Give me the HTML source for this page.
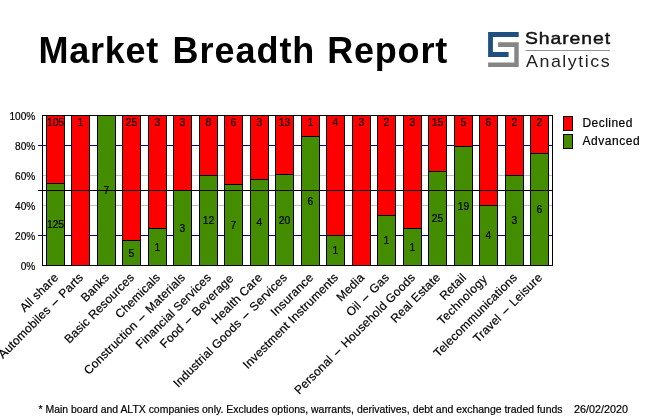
<!DOCTYPE html>
<html><head><meta charset="utf-8"><title>Market Breadth Report</title>
<style>
html,body{margin:0;padding:0;background:#fff}
body{width:655px;height:420px;position:relative;overflow:hidden;font-family:"Liberation Sans",Arial,sans-serif;color:#000}
.ttl{position:absolute;top:31.3px;font-weight:bold;font-size:36px;line-height:40px;transform-origin:0 0;white-space:nowrap;color:#000}
.lg1{position:absolute;left:524.5px;top:28.4px;font-size:17px;line-height:22px;white-space:nowrap;color:#111;letter-spacing:0.8px;-webkit-text-stroke:0.45px #111;transform-origin:0 0;transform:scaleX(1.14)}
.lg2{position:absolute;left:526px;top:50.6px;font-size:17px;line-height:22px;white-space:nowrap;color:#222;letter-spacing:1.45px;transform-origin:0 0;transform:scaleX(1.05)}
</style></head><body>
<div class="ttl" id="w1" style="left:38.6px;letter-spacing:0.7px">Market</div>
<div class="ttl" id="w2" style="left:172.6px;letter-spacing:0.95px">Breadth</div>
<div class="ttl" id="w3" style="left:327.2px;letter-spacing:0.8px">Report</div>
<svg width="655" height="420" viewBox="0 0 655 420" style="position:absolute;left:0;top:0">
<path d="M488.1 32.1H518.7V36.9H492.9V52.1H508.6V56.9H488.1Z" fill="#1f4e80"/>
<path d="M498.1 42.3H518.7V66.9H488.1V62.5H514.3V47H498.1Z" fill="#858585"/>
<rect x="525.5" y="50" width="84.5" height="0.8" fill="#777"/>
</svg>
<div class="lg1" id="l1">Sharenet</div>
<div class="lg2" id="l2">Analytics</div>
<svg width="655" height="420" viewBox="0 0 655 420" style="position:absolute;left:0;top:0" shape-rendering="crispEdges"><rect x="42.5" y="115.5" width="510" height="150" fill="#fff" stroke="#000" stroke-width="1"/><rect x="38" y="145" width="514" height="1" fill="#000080"/><rect x="38" y="235" width="514" height="1" fill="#000080"/><rect x="43" y="175" width="509" height="1" fill="#c0c0c0"/><rect x="43" y="205" width="509" height="1" fill="#c0c0c0"/><rect x="46.5" y="115.5" width="18" height="68" fill="#ff0000" stroke="#000"/><rect x="46.5" y="183.5" width="18" height="82" fill="#448c00" stroke="#000"/><rect x="71.5" y="115.5" width="18" height="150" fill="#ff0000" stroke="#000"/><rect x="97.5" y="115.5" width="18" height="150" fill="#448c00" stroke="#000"/><rect x="122.5" y="115.5" width="18" height="125" fill="#ff0000" stroke="#000"/><rect x="122.5" y="240.5" width="18" height="25" fill="#448c00" stroke="#000"/><rect x="148.5" y="115.5" width="18" height="113" fill="#ff0000" stroke="#000"/><rect x="148.5" y="228.5" width="18" height="37" fill="#448c00" stroke="#000"/><rect x="173.5" y="115.5" width="18" height="75" fill="#ff0000" stroke="#000"/><rect x="173.5" y="190.5" width="18" height="75" fill="#448c00" stroke="#000"/><rect x="199.5" y="115.5" width="18" height="60" fill="#ff0000" stroke="#000"/><rect x="199.5" y="175.5" width="18" height="90" fill="#448c00" stroke="#000"/><rect x="224.5" y="115.5" width="18" height="69" fill="#ff0000" stroke="#000"/><rect x="224.5" y="184.5" width="18" height="81" fill="#448c00" stroke="#000"/><rect x="250.5" y="115.5" width="18" height="64" fill="#ff0000" stroke="#000"/><rect x="250.5" y="179.5" width="18" height="86" fill="#448c00" stroke="#000"/><rect x="275.5" y="115.5" width="18" height="59" fill="#ff0000" stroke="#000"/><rect x="275.5" y="174.5" width="18" height="91" fill="#448c00" stroke="#000"/><rect x="301.5" y="115.5" width="18" height="21" fill="#ff0000" stroke="#000"/><rect x="301.5" y="136.5" width="18" height="129" fill="#448c00" stroke="#000"/><rect x="326.5" y="115.5" width="18" height="120" fill="#ff0000" stroke="#000"/><rect x="326.5" y="235.5" width="18" height="30" fill="#448c00" stroke="#000"/><rect x="352.5" y="115.5" width="18" height="150" fill="#ff0000" stroke="#000"/><rect x="377.5" y="115.5" width="18" height="100" fill="#ff0000" stroke="#000"/><rect x="377.5" y="215.5" width="18" height="50" fill="#448c00" stroke="#000"/><rect x="403.5" y="115.5" width="18" height="113" fill="#ff0000" stroke="#000"/><rect x="403.5" y="228.5" width="18" height="37" fill="#448c00" stroke="#000"/><rect x="428.5" y="115.5" width="18" height="56" fill="#ff0000" stroke="#000"/><rect x="428.5" y="171.5" width="18" height="94" fill="#448c00" stroke="#000"/><rect x="454.5" y="115.5" width="18" height="31" fill="#ff0000" stroke="#000"/><rect x="454.5" y="146.5" width="18" height="119" fill="#448c00" stroke="#000"/><rect x="479.5" y="115.5" width="18" height="90" fill="#ff0000" stroke="#000"/><rect x="479.5" y="205.5" width="18" height="60" fill="#448c00" stroke="#000"/><rect x="505.5" y="115.5" width="18" height="60" fill="#ff0000" stroke="#000"/><rect x="505.5" y="175.5" width="18" height="90" fill="#448c00" stroke="#000"/><rect x="530.5" y="115.5" width="18" height="38" fill="#ff0000" stroke="#000"/><rect x="530.5" y="153.5" width="18" height="112" fill="#448c00" stroke="#000"/><rect x="38" y="190" width="515" height="1" fill="#000"/><rect x="563.5" y="116.5" width="9" height="14" fill="#ff0000" stroke="#000"/><rect x="563.5" y="134.5" width="9" height="14" fill="#448c00" stroke="#000"/></svg>
<svg width="655" height="420" viewBox="0 0 655 420" style="position:absolute;left:0;top:0" font-family="Liberation Sans, Arial, sans-serif" fill="#000" stroke="#000" stroke-width="0.2"><text transform="translate(35.3,120) scale(0.92,1)" font-size="11" text-anchor="end">100%</text><text transform="translate(35.3,150) scale(0.92,1)" font-size="11" text-anchor="end">80%</text><text transform="translate(35.3,180) scale(0.92,1)" font-size="11" text-anchor="end">60%</text><text transform="translate(35.3,210) scale(0.92,1)" font-size="11" text-anchor="end">40%</text><text transform="translate(35.3,240) scale(0.92,1)" font-size="11" text-anchor="end">20%</text><text transform="translate(35.3,270) scale(0.92,1)" font-size="11" text-anchor="end">0%</text><text transform="translate(55.5,126) scale(0.94,1)" font-size="11" text-anchor="middle">105</text><text transform="translate(55.5,228) scale(0.94,1)" font-size="11" text-anchor="middle">125</text><text transform="translate(59,278.2) rotate(-45)" font-size="12" letter-spacing="0.2" text-anchor="end">All share</text><text transform="translate(80.5,126) scale(0.94,1)" font-size="11" text-anchor="middle">1</text><text transform="translate(84,278.2) rotate(-45)" font-size="12" letter-spacing="0.2" text-anchor="end">Automobiles&#160;<tspan dx="1.6">–</tspan><tspan dx="1.6">&#160;</tspan>Parts</text><text transform="translate(106.5,194) scale(0.94,1)" font-size="11" text-anchor="middle">7</text><text transform="translate(110,278.2) rotate(-45)" font-size="12" letter-spacing="0.2" text-anchor="end">Banks</text><text transform="translate(131.5,126) scale(0.94,1)" font-size="11" text-anchor="middle">25</text><text transform="translate(131.5,256.5) scale(0.94,1)" font-size="11" text-anchor="middle">5</text><text transform="translate(135,278.2) rotate(-45)" font-size="12" letter-spacing="0.2" text-anchor="end">Basic Resources</text><text transform="translate(157.5,126) scale(0.94,1)" font-size="11" text-anchor="middle">3</text><text transform="translate(157.5,250.5) scale(0.94,1)" font-size="11" text-anchor="middle">1</text><text transform="translate(161,278.2) rotate(-45)" font-size="12" letter-spacing="0.2" text-anchor="end">Chemicals</text><text transform="translate(182.5,126) scale(0.94,1)" font-size="11" text-anchor="middle">3</text><text transform="translate(182.5,231.5) scale(0.94,1)" font-size="11" text-anchor="middle">3</text><text transform="translate(186,278.2) rotate(-45)" font-size="12" letter-spacing="0.2" text-anchor="end">Construction&#160;<tspan dx="1.6">–</tspan><tspan dx="1.6">&#160;</tspan>Materials</text><text transform="translate(208.5,126) scale(0.94,1)" font-size="11" text-anchor="middle">8</text><text transform="translate(208.5,224) scale(0.94,1)" font-size="11" text-anchor="middle">12</text><text transform="translate(212,278.2) rotate(-45)" font-size="12" letter-spacing="0.2" text-anchor="end">Financial Services</text><text transform="translate(233.5,126) scale(0.94,1)" font-size="11" text-anchor="middle">6</text><text transform="translate(233.5,228.5) scale(0.94,1)" font-size="11" text-anchor="middle">7</text><text transform="translate(234.3,279.2) rotate(-45)" font-size="12" letter-spacing="0.2" text-anchor="end">Food&#160;<tspan dx="1.6">–</tspan><tspan dx="1.6">&#160;</tspan>Beverage</text><text transform="translate(259.5,126) scale(0.94,1)" font-size="11" text-anchor="middle">3</text><text transform="translate(259.5,226) scale(0.94,1)" font-size="11" text-anchor="middle">4</text><text transform="translate(263,278.2) rotate(-45)" font-size="12" letter-spacing="0.2" text-anchor="end">Health Care</text><text transform="translate(284.5,126) scale(0.94,1)" font-size="11" text-anchor="middle">13</text><text transform="translate(284.5,223.5) scale(0.94,1)" font-size="11" text-anchor="middle">20</text><text transform="translate(288,278.2) rotate(-45)" font-size="12" letter-spacing="0.2" text-anchor="end">Industrial Goods&#160;<tspan dx="1.6">–</tspan><tspan dx="1.6">&#160;</tspan>Services</text><text transform="translate(310.5,126) scale(0.94,1)" font-size="11" text-anchor="middle">1</text><text transform="translate(310.5,204.5) scale(0.94,1)" font-size="11" text-anchor="middle">6</text><text transform="translate(314,278.2) rotate(-45)" font-size="12" letter-spacing="0.2" text-anchor="end">Insurance</text><text transform="translate(335.5,126) scale(0.94,1)" font-size="11" text-anchor="middle">4</text><text transform="translate(335.5,254) scale(0.94,1)" font-size="11" text-anchor="middle">1</text><text transform="translate(339,278.2) rotate(-45)" font-size="12" letter-spacing="0.2" text-anchor="end">Investment Instruments</text><text transform="translate(361.5,126) scale(0.94,1)" font-size="11" text-anchor="middle">3</text><text transform="translate(365,278.2) rotate(-45)" font-size="12" letter-spacing="0.2" text-anchor="end">Media</text><text transform="translate(386.5,126) scale(0.94,1)" font-size="11" text-anchor="middle">2</text><text transform="translate(386.5,244) scale(0.94,1)" font-size="11" text-anchor="middle">1</text><text transform="translate(390,278.2) rotate(-45)" font-size="12" letter-spacing="0.2" text-anchor="end">Oil&#160;<tspan dx="1.6">–</tspan><tspan dx="1.6">&#160;</tspan>Gas</text><text transform="translate(412.5,126) scale(0.94,1)" font-size="11" text-anchor="middle">3</text><text transform="translate(412.5,250.5) scale(0.94,1)" font-size="11" text-anchor="middle">1</text><text transform="translate(416,278.2) rotate(-45)" font-size="12" letter-spacing="0.2" text-anchor="end">Personal&#160;<tspan dx="1.6">–</tspan><tspan dx="1.6">&#160;</tspan>Household Goods</text><text transform="translate(437.5,126) scale(0.94,1)" font-size="11" text-anchor="middle">15</text><text transform="translate(437.5,222) scale(0.94,1)" font-size="11" text-anchor="middle">25</text><text transform="translate(441,278.2) rotate(-45)" font-size="12" letter-spacing="0.2" text-anchor="end">Real Estate</text><text transform="translate(463.5,126) scale(0.94,1)" font-size="11" text-anchor="middle">5</text><text transform="translate(463.5,209.5) scale(0.94,1)" font-size="11" text-anchor="middle">19</text><text transform="translate(467,278.2) rotate(-45)" font-size="12" letter-spacing="0.2" text-anchor="end">Retail</text><text transform="translate(488.5,126) scale(0.94,1)" font-size="11" text-anchor="middle">6</text><text transform="translate(488.5,239) scale(0.94,1)" font-size="11" text-anchor="middle">4</text><text transform="translate(488,279.7) rotate(-45)" font-size="12" letter-spacing="0.4" text-anchor="end">Technology</text><text transform="translate(514.5,126) scale(0.94,1)" font-size="11" text-anchor="middle">2</text><text transform="translate(514.5,224) scale(0.94,1)" font-size="11" text-anchor="middle">3</text><text transform="translate(518,278.2) rotate(-45)" font-size="12" letter-spacing="0.2" text-anchor="end">Telecommunications</text><text transform="translate(539.5,126) scale(0.94,1)" font-size="11" text-anchor="middle">2</text><text transform="translate(539.5,213) scale(0.94,1)" font-size="11" text-anchor="middle">6</text><text transform="translate(543,278.2) rotate(-45)" font-size="12" letter-spacing="0.2" text-anchor="end">Travel&#160;<tspan dx="1.6">–</tspan><tspan dx="1.6">&#160;</tspan>Leisure</text><text x="582.5" y="127" font-size="12" letter-spacing="0.45">Declined</text><text x="582.5" y="145" font-size="12" letter-spacing="0.55">Advanced</text><text x="38.5" y="413" font-size="11" textLength="524" lengthAdjust="spacingAndGlyphs">* Main board and ALTX companies only. Excludes options, warrants, derivatives, debt and exchange traded funds</text><text x="574" y="413" font-size="11" textLength="54" lengthAdjust="spacingAndGlyphs">26/02/2020</text></svg>
</body></html>
